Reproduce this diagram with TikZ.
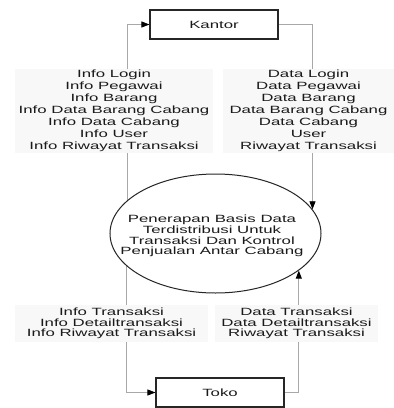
\documentclass[tikz,border=0pt]{standalone}
\usepackage{fontspec}
\setmainfont[FakeStretch=1.6]{Liberation Sans}
\usetikzlibrary{arrows.meta,shapes.geometric}
\definecolor{lblbg}{HTML}{F8F8F8}
\definecolor{linegray}{HTML}{A8A8A8}
\definecolor{txt}{HTML}{1A1A1A}
\pgfdeclarelayer{connlayer}
\pgfdeclarelayer{paperlayer}
\pgfsetlayers{paperlayer,connlayer,main}
\begin{document}
\begin{tikzpicture}[x=1pt,y=-1pt,
  entity/.style={draw=black!85,fill=white,line width=1.1pt,minimum width=128pt,minimum height=29pt,inner sep=0pt,text=txt,font=\fontsize{10.5}{12}\selectfont},
  flowlbl/.style={fill=lblbg,inner sep=0pt,align=center,text=txt},
  flow/.style={draw=linegray,line width=0.8pt},
  arr/.style={-{Triangle[length=8pt,width=6pt,color=black]}}]
\useasboundingbox (0,0) rectangle (394,408);
\begin{pgfonlayer}{paperlayer}
\fill[white] (0,0) rectangle (394,408);
\end{pgfonlayer}
% labels
\node[flowlbl,minimum width=198pt,minimum height=84pt,font=\fontsize{10.5}{12}\selectfont] (lblTL) at (114,111) {Info Login\\Info Pegawai\\Info Barang\\Info Data Barang Cabang\\Info Data Cabang\\Info User\\Info Riwayat Transaksi};
\node[flowlbl,minimum width=171pt,minimum height=84pt,font=\fontsize{10.5}{12}\selectfont] (lblTR) at (308.5,111) {Data Login\\Data Pegawai\\Data Barang\\Data Barang Cabang\\Data Cabang\\User\\Riwayat Transaksi};
\node[flowlbl,minimum width=193pt,minimum height=37pt,font=\fontsize{10.5}{10.6}\selectfont] (lblBL) at (111.5,323.5) {Info Transaksi\\Info Detailtransaksi\\Info Riwayat Transaksi};
\node[flowlbl,minimum width=163pt,minimum height=37pt,font=\fontsize{10.5}{10.6}\selectfont] (lblBR) at (296.5,323.5) {Data Transaksi\\Data Detailtransaksi\\Riwayat Transaksi};
% entities and process
\node[entity] (kantor) at (214,24.5) {Kantor};
\node[entity] (toko) at (220,392.5) {Toko};
\node[draw=black!85,line width=1pt,ellipse,minimum width=211pt,minimum height=119pt,inner sep=0pt] (proc) at (215.5,233.5) {};
\node[align=center,inner sep=0pt,text=txt,font=\fontsize{10.5}{10.7}\selectfont] (proctext) at (212,236) {Penerapan Basis Data\\Terdistribusi Untuk\\Transaksi Dan Kontrol\\Penjualan Antar Cabang};
% connectors
\begin{pgfonlayer}{connlayer}
\draw[flow,arr] (proc.159.2) |- (kantor.west);
\draw[flow,arr] (kantor.east) -| (proc.14.8);
\draw[flow,arr] (proc.200.8) |- (toko.west);
\draw[flow,arr] (toko.east) -| (proc.-24.2);
\end{pgfonlayer}
\end{tikzpicture}
\end{document}
